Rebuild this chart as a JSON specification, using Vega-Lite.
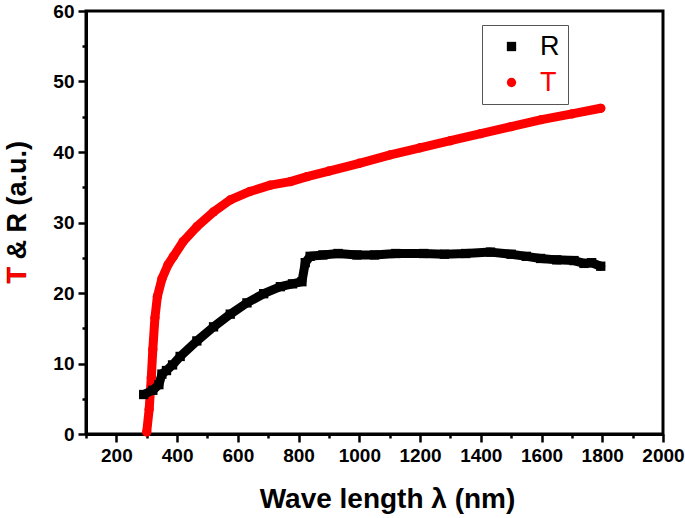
{
  "$schema": "https://vega.github.io/schema/vega-lite/v6.json",
  "width": 577,
  "height": 423,
  "autosize": "none",
  "padding": {"left": 86, "top": 11, "right": 22, "bottom": 84},
  "background": "white",
  "config": {
    "view": {"stroke": "black", "strokeWidth": 3},
    "font": "Liberation Sans",
    "axis": {
      "grid": false,
      "domainColor": "black",
      "domainWidth": 3,
      "tickColor": "black",
      "tickWidth": 2.5,
      "labelFont": "Liberation Sans",
      "labelFontWeight": "bold",
      "labelFontSize": 19,
      "labelColor": "black",
      "titleFont": "Liberation Sans",
      "titleFontWeight": "bold",
      "titleColor": "black"
    },
    "legend": {
      "title": null,
      "orient": "none",
      "legendX": 396,
      "legendY": 14,
      "direction": "vertical",
      "strokeColor": "#555555",
      "padding": 8,
      "symbolOffset": 8,
      "symbolSize": 87,
      "symbolStrokeWidth": 0,
      "labelOffset": 15,
      "rowPadding": 8,
      "labelFont": "Liberation Sans",
      "labelFontSize": 27,
      "labelFontWeight": "normal"
    }
  },
  "data": {
    "values": [
      {"wl": 300, "val": 0.3, "series": "T"},
      {"wl": 308, "val": 3.5, "series": "T"},
      {"wl": 315, "val": 8.0, "series": "T"},
      {"wl": 320, "val": 12.0, "series": "T"},
      {"wl": 327, "val": 16.5, "series": "T"},
      {"wl": 335, "val": 19.5, "series": "T"},
      {"wl": 350, "val": 22.0, "series": "T"},
      {"wl": 370, "val": 24.0, "series": "T"},
      {"wl": 388, "val": 25.2, "series": "T"},
      {"wl": 420, "val": 27.3, "series": "T"},
      {"wl": 465, "val": 29.4, "series": "T"},
      {"wl": 520, "val": 31.5, "series": "T"},
      {"wl": 575, "val": 33.2, "series": "T"},
      {"wl": 640, "val": 34.4, "series": "T"},
      {"wl": 707, "val": 35.3, "series": "T"},
      {"wl": 773, "val": 35.8, "series": "T"},
      {"wl": 828, "val": 36.5, "series": "T"},
      {"wl": 900, "val": 37.3, "series": "T"},
      {"wl": 1000, "val": 38.4, "series": "T"},
      {"wl": 1102, "val": 39.6, "series": "T"},
      {"wl": 1200, "val": 40.6, "series": "T"},
      {"wl": 1300, "val": 41.6, "series": "T"},
      {"wl": 1400, "val": 42.6, "series": "T"},
      {"wl": 1500, "val": 43.6, "series": "T"},
      {"wl": 1600, "val": 44.6, "series": "T"},
      {"wl": 1700, "val": 45.4, "series": "T"},
      {"wl": 1795, "val": 46.2, "series": "T"},
      {"wl": 290, "val": 5.6, "series": "R"},
      {"wl": 320, "val": 6.2, "series": "R"},
      {"wl": 340, "val": 7.0, "series": "R"},
      {"wl": 350, "val": 8.5, "series": "R"},
      {"wl": 365, "val": 9.0, "series": "R"},
      {"wl": 385, "val": 9.8, "series": "R"},
      {"wl": 410, "val": 11.0, "series": "R"},
      {"wl": 465, "val": 13.2, "series": "R"},
      {"wl": 520, "val": 15.2, "series": "R"},
      {"wl": 575, "val": 17.0, "series": "R"},
      {"wl": 630, "val": 18.6, "series": "R"},
      {"wl": 685, "val": 19.9, "series": "R"},
      {"wl": 740, "val": 20.9, "series": "R"},
      {"wl": 780, "val": 21.3, "series": "R"},
      {"wl": 811, "val": 21.6, "series": "R"},
      {"wl": 822, "val": 24.3, "series": "R"},
      {"wl": 838, "val": 25.2, "series": "R"},
      {"wl": 880, "val": 25.4, "series": "R"},
      {"wl": 930, "val": 25.6, "series": "R"},
      {"wl": 992, "val": 25.4, "series": "R"},
      {"wl": 1050, "val": 25.4, "series": "R"},
      {"wl": 1120, "val": 25.6, "series": "R"},
      {"wl": 1212, "val": 25.6, "series": "R"},
      {"wl": 1280, "val": 25.5, "series": "R"},
      {"wl": 1350, "val": 25.6, "series": "R"},
      {"wl": 1432, "val": 25.8, "series": "R"},
      {"wl": 1500, "val": 25.5, "series": "R"},
      {"wl": 1550, "val": 25.2, "series": "R"},
      {"wl": 1597, "val": 24.9, "series": "R"},
      {"wl": 1650, "val": 24.7, "series": "R"},
      {"wl": 1707, "val": 24.6, "series": "R"},
      {"wl": 1740, "val": 24.2, "series": "R"},
      {"wl": 1765, "val": 24.3, "series": "R"},
      {"wl": 1795, "val": 23.8, "series": "R"}
    ]
  },
  "encoding": {
    "x": {
      "field": "wl",
      "type": "quantitative",
      "scale": {"domain": [100, 2000], "nice": false, "zero": false},
      "axis": {
        "values": [100, 200, 300, 400, 500, 600, 700, 800, 900, 1000, 1100, 1200, 1300, 1400, 1500, 1600, 1700, 1800, 1900, 2000],
        "labelExpr": "datum.value % 200 === 0 ? datum.value : ''",
        "tickSize": {"condition": {"test": "datum.value % 200 === 0", "value": 8}, "value": 4},
        "labelPadding": 4,
        "labelFlush": false,
        "labelOverlap": false,
        "title": "Wave length λ (nm)",
        "titleFontSize": 28,
        "titleX": 301,
        "titleY": 73,
        "titleAlign": "center",
        "titleBaseline": "alphabetic"
      }
    },
    "color": {
      "field": "series",
      "type": "nominal",
      "scale": {"domain": ["R", "T"], "range": ["black", "#ff0000"]},
      "legend": {
        "encode": {"labels": {"update": {"fill": {"signal": "datum.value === 'T' ? '#ff0000' : 'black'"}}}}
      }
    }
  },
  "layer": [
    {
      "mark": {"type": "line", "strokeWidth": 9, "strokeCap": "round", "strokeJoin": "round"},
      "encoding": {
        "y": {
          "field": "val",
          "type": "quantitative",
          "scale": {"domain": [0, 60], "nice": false},
          "axis": {
            "orient": "left",
            "values": [0, 5, 10, 15, 20, 25, 30, 35, 40, 45, 50, 55, 60],
            "labelExpr": "datum.value % 10 === 0 ? datum.value : ''",
            "tickSize": {"condition": {"test": "datum.value % 10 === 0", "value": 8}, "value": 4},
            "labelPadding": 4,
            "labelFlush": false,
            "labelOverlap": false,
            "title": "T & R (a.u.)",
            "titleFontSize": 27,
            "titleAngle": 270,
            "titleAlign": "left",
            "titleBaseline": "alphabetic",
            "titleX": -61,
            "titleY": 272
          }
        }
      }
    },
    {
      "mark": {"type": "point", "filled": true, "size": 87, "opacity": 1},
      "encoding": {
        "y": {
          "field": "val",
          "type": "quantitative",
          "scale": {"domain": [0, 60], "nice": false},
          "axis": {
            "orient": "left",
            "labels": false,
            "ticks": false,
            "domain": false,
            "grid": false,
            "title": "T",
            "titleColor": "#ff0000",
            "titleFontSize": 27,
            "titleAngle": 270,
            "titleAlign": "left",
            "titleBaseline": "alphabetic",
            "titleX": -61,
            "titleY": 272
          }
        },
        "shape": {
          "field": "series",
          "type": "nominal",
          "scale": {"domain": ["R", "T"], "range": ["square", "circle"]}
        }
      }
    }
  ],
  "resolve": {"axis": {"y": "independent"}}
}
